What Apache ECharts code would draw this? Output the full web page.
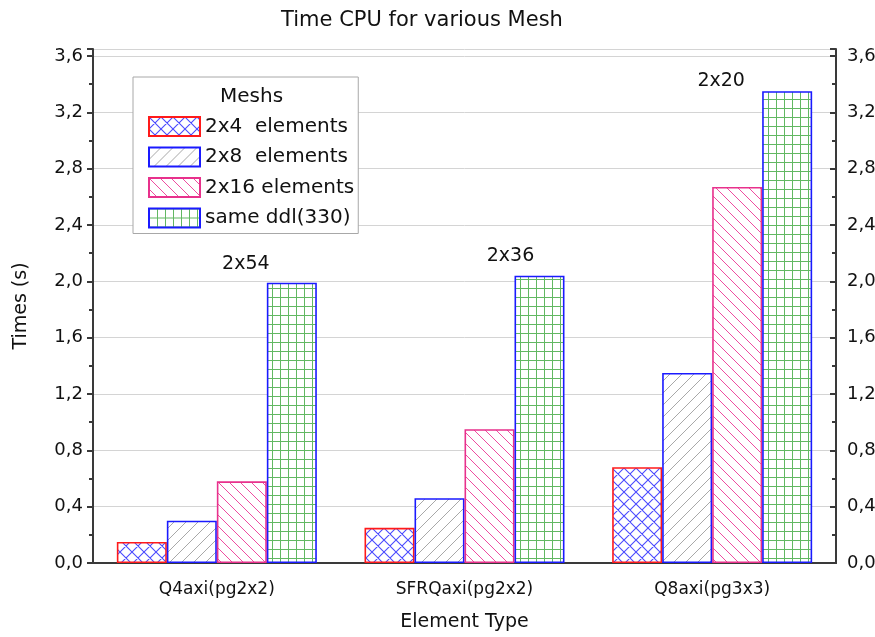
<!DOCTYPE html>
<html>
<head>
<meta charset="utf-8">
<script src="https://cdn.jsdelivr.net/npm/echarts@6/dist/echarts.min.js"></script>
<style>
html,body{margin:0;padding:0;background:#fff;}
#chart{width:875px;height:637px;}
</style>
</head>
<body>
<div id="chart"></div>
<script>
// ---- data ----
const categories = ['Q4axi(pg2x2)', 'SFRQaxi(pg2x2)', 'Q8axi(pg3x3)'];
const seriesNames = ['2x4  elements', '2x8  elements', '2x16 elements', 'same ddl(330)'];
const mesh2x4 = [0.15, 0.25, 0.68];
const mesh2x8 = [0.30, 0.46, 1.35];
const mesh2x16 = [0.58, 0.95, 2.67];
const sameDdl = [1.99, 2.04, 3.35];
const sameDdlNotes = ['2x54', '2x36', '2x20'];
const yMin = 0, yMax = 3.65, yStep = 0.4;

// ---- styling helpers ----
const FONT = 'DejaVu Sans';
function makePattern(kind, color, w, h, lw) {
  const c = document.createElement('canvas');
  c.width = w; c.height = h;
  const g = c.getContext('2d');
  g.fillStyle = '#ffffff';
  g.fillRect(0, 0, w, h);
  g.strokeStyle = color;
  g.lineWidth = lw;
  g.beginPath();
  if (kind === 'back' || kind === 'cross') {
    for (let k = -1; k <= 1; k++) { g.moveTo(k * w, 0); g.lineTo(k * w + w, h); }
  }
  if (kind === 'fwd' || kind === 'cross') {
    for (let k = -1; k <= 1; k++) { g.moveTo(k * w, h); g.lineTo(k * w + w, 0); }
  }
  if (kind === 'grid') {
    g.moveTo(0.5, 0); g.lineTo(0.5, h);
    g.moveTo(0, 0.5); g.lineTo(w, 0.5);
  }
  g.stroke();
  return { image: c, repeat: 'repeat' };
}
const styles = [
  { fill: makePattern('cross', '#4a4aff', 12, 12, 1.1), border: '#ff1a1a' },
  { fill: makePattern('fwd', '#a8a8a8', 12, 12, 1), border: '#1a1aff' },
  { fill: makePattern('back', '#ee4d9f', 11, 11, 1), border: '#e8318c' },
  { fill: makePattern('grid', '#62b862', 8.4, 9.5, 1), border: '#1a1aff' }
];
const noteOffsets = [[-46, -4], [-29, -5], [-66, 4.5]];
const fmt = v => (v > 3.61 ? '' : v.toFixed(1).replace('.', ','));

const values = [mesh2x4, mesh2x8, mesh2x16, sameDdl];
const series = values.map((arr, i) => {
  const s = {
    name: seriesNames[i],
    type: 'bar',
    barWidth: 50,
    barGap: '0%',
    itemStyle: { color: styles[i].fill, borderColor: styles[i].border, borderWidth: 1.6 },
    emphasis: { disabled: true },
    data: arr.slice()
  };
  if (i === 3) {
    s.data = arr.map((v, j) => ({ value: v, label: { offset: noteOffsets[j] } }));
    s.label = {
      show: true, position: 'top', distance: 5,
      formatter: p => sameDdlNotes[p.dataIndex],
      fontFamily: FONT, fontSize: 19, lineHeight: 19, color: '#111'
    };
  }
  return s;
});

const chart = echarts.init(document.getElementById('chart'), null, { renderer: 'canvas' });
const axisLineStyle = { color: '#3a3a3a', width: 2 };
chart.setOption({
  animation: false,
  backgroundColor: '#ffffff',
  title: {
    text: 'Time CPU for various Mesh',
    left: 417, top: 5, textAlign: 'center',
    textStyle: { fontFamily: FONT, fontSize: 21, fontWeight: 'normal', color: '#111' }
  },
  grid: { left: 93, right: 39, top: 49, bottom: 74, outerBoundsMode: 'none' },
  legend: {
    orient: 'vertical', left: 133, top: 77,
    padding: [39, 4, 5, 15],
    itemWidth: 51, itemHeight: 19, itemGap: 9.5,
    icon: 'rect',
    backgroundColor: '#ffffff', borderColor: '#a8a8a8', borderWidth: 1,
    textStyle: { fontFamily: FONT, fontSize: 20, lineHeight: 19, color: '#111' },
    selectedMode: false
  },
  graphic: [{
    type: 'text', left: 220, top: 87, z: 100,
    style: { text: 'Meshs', x: 0, y: 0, fontFamily: FONT, fontSize: 20, fill: '#111', align: 'center' }
  }],
  xAxis: [{
    type: 'category', data: categories, position: 'bottom',
    name: 'Element Type', nameLocation: 'middle', nameGap: 50,
    nameTextStyle: { fontFamily: FONT, fontSize: 19, color: '#111' },
    axisLine: { lineStyle: axisLineStyle },
    axisTick: { alignWithLabel: true, length: 8, lineStyle: axisLineStyle },
    axisLabel: { fontFamily: FONT, fontSize: 17, color: '#111', margin: 18 },
    splitLine: { show: false }
  }, {
    type: 'category', data: categories, position: 'top',
    axisLine: { lineStyle: axisLineStyle },
    axisTick: { show: false }, axisLabel: { show: false }, splitLine: { show: false }
  }],
  yAxis: [{
    type: 'value', min: yMin, max: yMax, interval: yStep, position: 'left',
    name: 'Times (s)', nameLocation: 'middle', nameGap: 62,
    nameTextStyle: { fontFamily: FONT, fontSize: 19, color: '#111' },
    axisLine: { show: true, lineStyle: axisLineStyle },
    axisTick: { show: true, length: 6, lineStyle: axisLineStyle },
    minorTick: { show: true, splitNumber: 2, length: 4, lineStyle: { color: '#3a3a3a', width: 2 } },
    axisLabel: { formatter: fmt, showMaxLabel: false, fontFamily: FONT, fontSize: 18, color: '#111', margin: 10 },
    splitLine: { show: true, lineStyle: { color: '#d4d4d4', width: 1 } }
  }, {
    type: 'value', min: yMin, max: yMax, interval: yStep, position: 'right',
    axisLine: { show: true, lineStyle: axisLineStyle },
    axisTick: { show: true, inside: true, length: 6, lineStyle: axisLineStyle },
    minorTick: { show: true, splitNumber: 2, length: 4, lineStyle: { color: '#3a3a3a', width: 2 } },
    axisLabel: { formatter: fmt, showMaxLabel: false, fontFamily: FONT, fontSize: 18, color: '#111', margin: 11 },
    splitLine: { show: false }
  }],
  series: series
});
</script>
</body>
</html>
